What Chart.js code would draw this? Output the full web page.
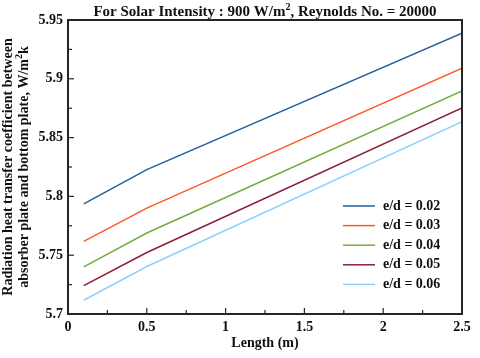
<!DOCTYPE html>
<html>
<head>
<meta charset="utf-8">
<script src="https://cdn.jsdelivr.net/npm/chart.js@4"></script>
<style>
  html, body { margin: 0; padding: 0; background: #fff; }
  #wrap { width: 480px; height: 358px; }
</style>
</head>
<body>
<div id="wrap"><canvas id="chart" width="480" height="358"></canvas></div>
<script>
// Data
const lengths = [0.1, 0.5, 2.5];
const ed002 = [5.7936, 5.8228, 5.9387];
const ed003 = [5.7617, 5.7900, 5.9090];
const ed004 = [5.7400, 5.7689, 5.8897];
const ed005 = [5.7242, 5.7523, 5.8752];
const ed006 = [5.7117, 5.7404, 5.8636];
const seriesLabels = ["e/d = 0.02", "e/d = 0.03", "e/d = 0.04", "e/d = 0.05", "e/d = 0.06"];
const seriesColors = ["#22609c", "#ff5a2a", "#72ad3e", "#8c1d40", "#8fd0ff"];
const xTicks = [0, 0.5, 1, 1.5, 2, 2.5];
const yTicks = [5.7, 5.75, 5.8, 5.85, 5.9, 5.95];

const FONT = "'Liberation Serif', 'Times New Roman', serif";

const allSeries = [ed002, ed003, ed004, ed005, ed006];
const datasets = allSeries.map((vals, i) => ({
  label: seriesLabels[i],
  data: vals.map((v, j) => ({ x: lengths[j], y: v })),
  borderColor: seriesColors[i],
  borderWidth: 1.5,
  pointRadius: 0,
  tension: 0,
  fill: false,
}));

function line(ctx, x1, y1, x2, y2, color, w) {
  ctx.strokeStyle = color;
  ctx.lineWidth = w;
  ctx.beginPath();
  ctx.moveTo(x1, y1);
  ctx.lineTo(x2, y2);
  ctx.stroke();
}

// inward ticks, frame, titles and legend inside the plot
const decorPlugin = {
  id: "decor",
  afterDraw(chart) {
    const { ctx, chartArea: a, scales } = chart;
    const xs = scales.x, ys = scales.y;
    const L = Math.round(a.left), R = Math.round(a.right);
    const T = Math.round(a.top), B = Math.round(a.bottom);
    ctx.save();
    const frame = "#262626";
    line(ctx, L - 1, T, R + 1, T, frame, 2);
    line(ctx, R, T, R, B, frame, 2);
    line(ctx, L - 1, B, R + 1, B, frame, 2);
    line(ctx, L, T, L, B, frame, 2);

    for (let k = 0; k <= 10; k++) {
      const px = xs.getPixelForValue(k * 0.25);
      line(ctx, px, B, px, B - (k % 2 === 0 ? 6 : 4), frame, 1.2);
    }
    for (let k = 0; k <= 10; k++) {
      const py = ys.getPixelForValue(5.7 + k * 0.025);
      line(ctx, L, py, L + (k % 2 === 0 ? 6 : 4), py, frame, 1.2);
    }

    // tick labels
    ctx.fillStyle = "#111";
    ctx.font = "bold 14px " + FONT;
    ctx.textAlign = "center";
    ctx.textBaseline = "top";
    xTicks.forEach((v) => ctx.fillText(String(v), xs.getPixelForValue(v), B + 6));
    ctx.textAlign = "right";
    ctx.textBaseline = "middle";
    yTicks.forEach((v) => ctx.fillText(String(v), L - 5, ys.getPixelForValue(v)));

    // title
    const cx = (L + R) / 2;
    ctx.textAlign = "center";
    ctx.textBaseline = "middle";
    ctx.font = "bold 15px " + FONT;
    const t1 = "For Solar Intensity : 900 W/m", t2 = ", Reynolds No. = 20000";
    const w1 = ctx.measureText(t1).width, w2 = ctx.measureText(t2).width;
    ctx.font = "bold 10px " + FONT;
    const ws = ctx.measureText("2").width;
    const x0 = cx - (w1 + ws + w2) / 2;
    ctx.textAlign = "left";
    ctx.font = "bold 15px " + FONT;
    ctx.fillText(t1, x0, 12);
    ctx.fillText(t2, x0 + w1 + ws, 12);
    ctx.font = "bold 10px " + FONT;
    ctx.fillText("2", x0 + w1, 7);

    // x axis title
    ctx.textAlign = "center";
    ctx.font = "bold 14px " + FONT;
    ctx.fillText("Length (m)", cx, 343);

    // y axis title (two lines, rotated)
    ctx.save();
    ctx.translate(0, (T + B) / 2);
    ctx.rotate(-Math.PI / 2);
    ctx.textAlign = "center";
    ctx.fillText("Radiation heat transfer coefficient between", 0, 8);
    const l2a = "absorber plate and bottom plate, W/m", l2b = "k";
    const wa = ctx.measureText(l2a).width, wb = ctx.measureText(l2b).width;
    ctx.font = "bold 10px " + FONT;
    const w2s = ctx.measureText("2").width;
    const s2 = -(wa + w2s + wb) / 2;
    ctx.textAlign = "left";
    ctx.font = "bold 14px " + FONT;
    ctx.fillText(l2a, s2, 24);
    ctx.fillText(l2b, s2 + wa + w2s, 24);
    ctx.font = "bold 10px " + FONT;
    ctx.fillText("2", s2 + wa, 19);
    ctx.restore();

    // legend
    ctx.font = "bold 14px " + FONT;
    ctx.textAlign = "left";
    chart.data.datasets.forEach((ds, i) => {
      const ly = 206 + i * 19.6;
      line(ctx, 343, ly, 375, ly, ds.borderColor, 1.5);
      ctx.fillStyle = "#111";
      ctx.fillText(ds.label, 383, ly);
    });
    ctx.restore();
  },
};

new Chart(document.getElementById("chart").getContext("2d"), {
  type: "line",
  data: { datasets },
  options: {
    responsive: false,
    animation: false,
    layout: { padding: { top: 20, right: 18, left: 0, bottom: 0 } },
    plugins: { legend: { display: false }, tooltip: { enabled: false } },
    scales: {
      x: {
        type: "linear",
        min: 0,
        max: 2.5,
        grid: { display: false },
        border: { display: false },
        ticks: { display: false },
        afterFit: (s) => { s.height = 44; },
      },
      y: {
        min: 5.7,
        max: 5.95,
        grid: { display: false },
        border: { display: false },
        ticks: { display: false },
        afterFit: (s) => { s.width = 68; },
      },
    },
  },
  plugins: [decorPlugin],
});
</script>
</body>
</html>
